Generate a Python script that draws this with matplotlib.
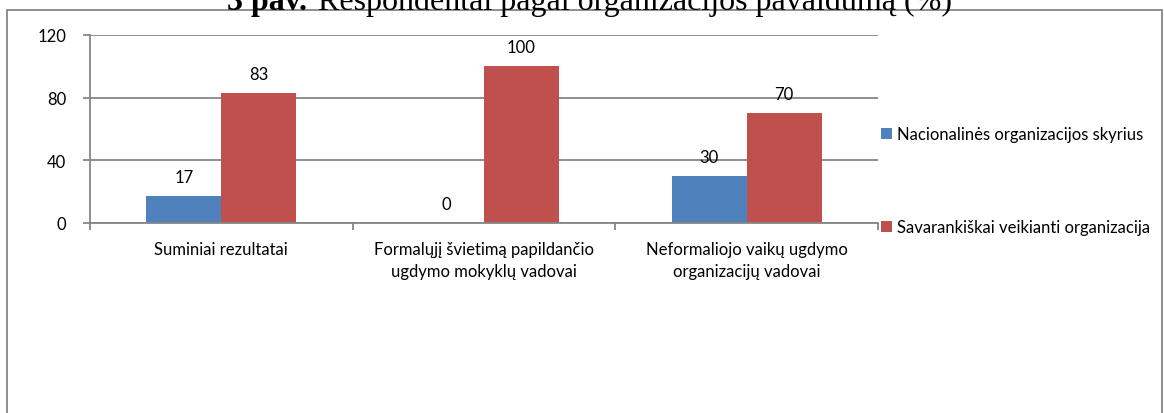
import numpy as np
import matplotlib
matplotlib.use('Agg')
import matplotlib.pyplot as plt
from matplotlib.patches import Rectangle

categories = ['Suminiai rezultatai',
              'Formalųjį švietimą papildančio\nugdymo mokyklų vadovai',
              'Neformaliojo vaikų ugdymo\norganizacijų vadovai']
series_names = ['Nacionalinės organizacijos skyrius',
                'Savarankiškai veikianti organizacija']
national = [17, 0, 30]
independent = [83, 100, 70]
y_ticks = [0, 40, 80, 120]

blue = '#4F81BD'
red = '#C0504D'
grid_c = '#868686'

plt.rcParams['font.family'] = ['Lato', 'DejaVu Sans']
plt.rcParams['font.size'] = 12

fig = plt.figure(figsize=(11.64, 4.14), dpi=100)
W, H = 1164, 414
ax = fig.add_axes([90 / W, 1 - 224 / H, (878 - 90) / W, (224 - 36) / H])

x = np.arange(len(categories))
w = 0.285
b1 = ax.bar(x - w / 2, national, w, color=blue, label=series_names[0])
b2 = ax.bar(x + w / 2, independent, w, color=red, label=series_names[1])
ax.bar_label(b1, padding=8)
ax.bar_label(b2, padding=8)

ax.set_xlim(-0.5, len(categories) - 0.5)
ax.set_ylim(0, 120)
ax.set_yticks(y_ticks)
ax.yaxis.grid(True, color=grid_c, lw=1.3)
ax.set_axisbelow(True)
for s in ['top', 'right']:
    ax.spines[s].set_visible(False)
for s in ['left', 'bottom']:
    ax.spines[s].set_color(grid_c)
    ax.spines[s].set_linewidth(1.3)

ax.set_xticks(x)
ax.set_xticklabels(categories, linespacing=1.45)
ax.set_xticks(np.arange(len(categories) + 1) - 0.5, minor=True)
ax.tick_params(axis='x', which='major', length=0, pad=13)
ax.tick_params(axis='x', which='minor', length=5, color=grid_c, width=1.3)
ax.tick_params(axis='y', length=5, color=grid_c, width=1.3, pad=12)

leg = ax.legend(loc='upper left', bbox_to_anchor=(0.995, 0.55), frameon=False,
                handlelength=0.65, handleheight=0.65, handletextpad=0.3,
                labelspacing=4.6, borderaxespad=0)

# outer chart frame
fig.patches.append(Rectangle((7 / W, -0.05), (1162 - 7) / W, 1.05 - 11 / H,
                             transform=fig.transFigure, fill=False,
                             edgecolor=grid_c, lw=1.3, clip_on=False))

# title, cut at the top like the original
renderer = fig.canvas.get_renderer()
t1 = fig.text(227 / W, 1 - 10 / H, '3 pav. ', fontsize=23, fontweight='bold',
              family='Liberation Serif', ha='left', va='baseline')
bb = t1.get_window_extent(renderer)
fig.text(bb.x1 / W + 3 / W, 1 - 10 / H, 'Respondentai pagal organizacijos pavaldumą (%)',
         fontsize=23, family='Liberation Serif', ha='left', va='baseline')

fig.savefig('out.png', dpi=100)
